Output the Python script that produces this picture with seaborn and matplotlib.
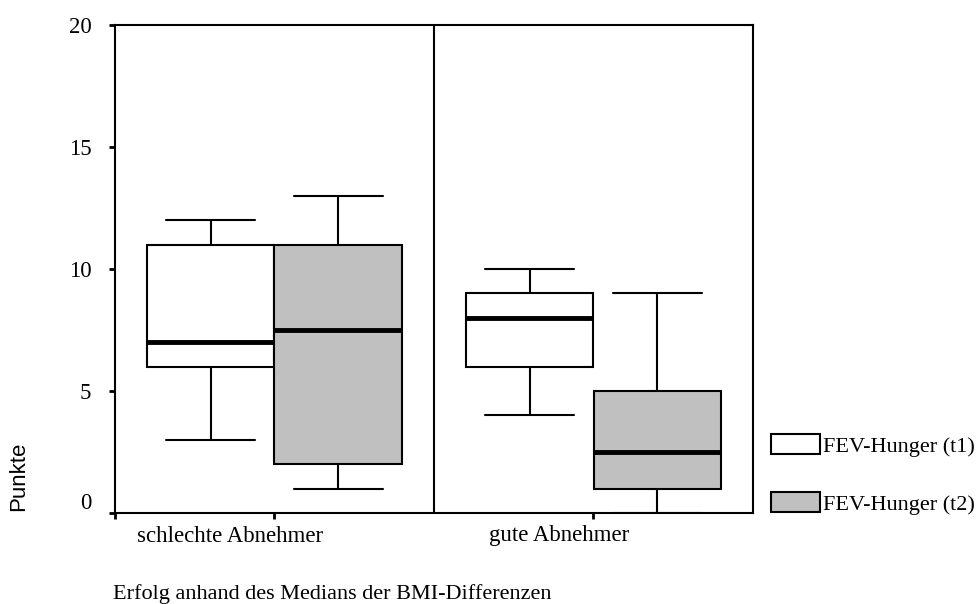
import numpy as np
import pandas as pd
import seaborn as sns
import matplotlib
matplotlib.use('Agg')
import matplotlib.pyplot as plt
from matplotlib.patches import Patch
from matplotlib.transforms import ScaledTranslation

# Gruppen und Zeitpunkte
groups = ["schlechte Abnehmer", "gute Abnehmer"]
series = ["FEV-Hunger (t1)", "FEV-Hunger (t2)"]

# Fünf-Punkte-Zusammenfassung je Box: min, Q1, Median, Q3, max
t1_summary = [[3, 6, 7, 11, 12], [4, 6, 8, 9, 10]]
t2_summary = [[1, 2, 7.5, 11, 13], [0, 1, 2.5, 5, 9]]

yticks = [0, 5, 10, 15, 20]
colors = ["white", "#c0c0c0"]

rows = []
for name, summ in zip(series, [t1_summary, t2_summary]):
    for g, vals in zip(groups, summ):
        for v in vals:
            rows.append({"Gruppe": g, "Zeit": name, "Punkte": v})
df = pd.DataFrame(rows)

sns.set_style("white")
plt.rcParams['font.family'] = ['Liberation Serif', 'DejaVu Serif']
for k in ['text.color', 'axes.labelcolor', 'xtick.color', 'ytick.color']:
    plt.rcParams[k] = 'black'

fig = plt.figure(figsize=(9.78, 6.04), dpi=100)
ax = fig.add_axes([115 / 978, 91 / 604, 638 / 978, 488 / 604])

sns.boxplot(data=df, x="Gruppe", y="Punkte", hue="Zeit", order=groups,
            hue_order=series, palette=colors, saturation=1, width=0.8, gap=0,
            whis=(0, 100), showfliers=False, linecolor="black", linewidth=1.5,
            medianprops={"linewidth": 3.5, "color": "black"},
            capwidths=0.28, legend=False, ax=ax)

ax.axvline(0.5, color="black", lw=1.5)
ax.set_xlim(-0.5, 1.5)
ax.set_ylim(0, 20)
ax.set_yticks(yticks)
ax.set_yticklabels([str(t) for t in yticks], fontsize=16.5)
ax.set_xticks([0, 1])
ax.set_xticklabels(groups, fontsize=16.5)
ax.set_xticks([-0.5], minor=True)

for s in ax.spines.values():
    s.set_visible(True)
    s.set_color("black")
    s.set_linewidth(1.5)

ax.tick_params(axis="both", which="both", direction="out", length=4, width=2,
               color="black", left=True, bottom=True)
ax.tick_params(axis="y", pad=13)
ax.tick_params(axis="x", pad=5)

# SPSS-typische Versätze der Beschriftungen
ylabs = ax.get_yticklabels()
ylabs[0].set_transform(ylabs[0].get_transform() + ScaledTranslation(0, 0.12, fig.dpi_scale_trans))
xlabs = ax.get_xticklabels()
xlabs[0].set_transform(xlabs[0].get_transform() + ScaledTranslation(-0.44, 0, fig.dpi_scale_trans))
xlabs[1].set_transform(xlabs[1].get_transform() + ScaledTranslation(-0.34, 0, fig.dpi_scale_trans))

ax.set_ylabel("Punkte", family=["Liberation Sans", "DejaVu Sans"], fontsize=16)
ax.yaxis.set_label_coords(-0.134, 0.076)
ax.set_xlabel("Erfolg anhand des Medians der BMI-Differenzen", fontsize=16)
ax.xaxis.set_label_coords(-0.003, -0.146)
ax.xaxis.label.set_ha("left")

handles = [Patch(facecolor=c, edgecolor="black", linewidth=1.5) for c in colors]
fig.legend(handles, series, loc="lower left", bbox_to_anchor=(771 / 978, 89 / 604),
           frameon=False, fontsize=16, handlelength=2.2, handleheight=1.0,
           handletextpad=0.15, labelspacing=1.6, borderpad=0, borderaxespad=0)

plt.savefig("out.png", dpi=100)
